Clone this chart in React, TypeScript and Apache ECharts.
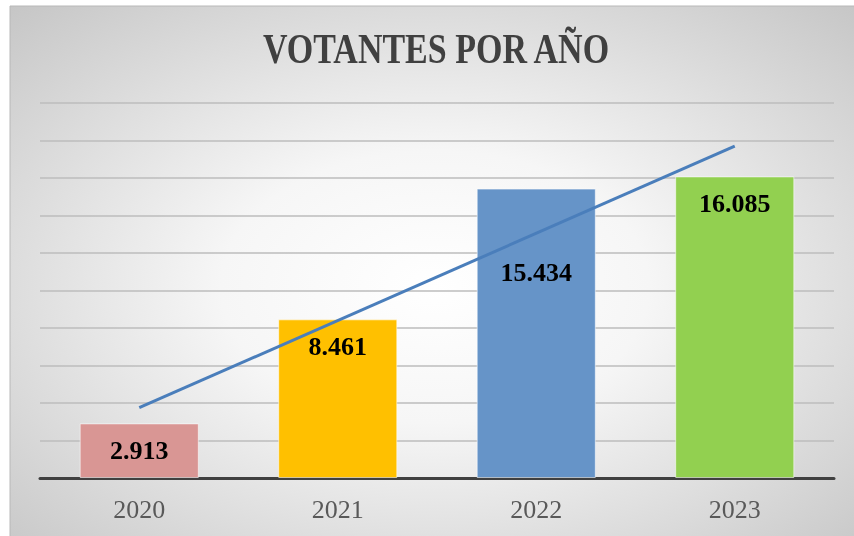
import React, { useEffect, useRef } from "react";
import * as echarts from "echarts";

const titleText = "VOTANTES POR AÑO";
const years = ["2020", "2021", "2022", "2023"];
const votantes = [2913, 8461, 15434, 16085];
const barColors = ["#d99694", "#ffc000", "#6694c8", "#92d050"];
const labelDistances = [14, 14, 71, 14];
// trendline endpoints (first and last category)
const trend = [3750, null, null, 17700];

const fmt = (v: number) => v.toLocaleString("de-DE");

export default function App() {
  const ref = useRef<HTMLDivElement>(null);
  useEffect(() => {
    const chart = echarts.init(ref.current!, null, { renderer: "svg" });
    chart.setOption({
      animation: false,
      graphic: [
        {
          type: "rect",
          z: -10,
          silent: true,
          shape: { x: 10, y: 6, width: 850, height: 540 },
          style: {
            fill: {
              type: "radial",
              x: 0.5,
              y: 0.52,
              r: 0.72,
              colorStops: [
                { offset: 0, color: "#ffffff" },
                { offset: 0.35, color: "#f6f6f6" },
                { offset: 1, color: "#c6c6c6" },
              ],
            },
            stroke: "#b8b8b8",
            lineWidth: 1,
          },
        },
        {
          type: "text",
          x: 436,
          y: 49,
          scaleY: 1.24,
          style: {
            text: titleText,
            fontFamily: "Liberation Serif",
            fontWeight: "bold",
            fontSize: 34,
            fill: "#404040",
            align: "center",
            verticalAlign: "middle",
          },
        },
      ],
      grid: { left: 40, right: 20, top: 103, bottom: 58 },
      xAxis: {
        type: "category",
        data: years,
        axisTick: { show: false },
        axisLine: { lineStyle: { color: "#404040", width: 3 } },
        axisLabel: {
          margin: 18,
          fontFamily: "Liberation Serif",
          fontSize: 26,
          lineHeight: 26,
          color: "#595959",
        },
      },
      yAxis: {
        type: "value",
        min: 0,
        max: 20000,
        interval: 2000,
        axisLabel: { show: false },
        axisLine: { show: false },
        axisTick: { show: false },
        splitLine: { lineStyle: { color: "#bdbdbd", width: 1.5 } },
      },
      series: [
        {
          type: "bar",
          barCategoryGap: "40%",
          data: votantes.map((v, i) => ({
            value: v,
            itemStyle: { color: barColors[i] },
            label: { distance: labelDistances[i] },
          })),
          itemStyle: { borderColor: "rgba(255,255,255,0.55)", borderWidth: 1 },
          label: {
            show: true,
            position: "insideTop",
            formatter: (p: any) => fmt(p.value),
            fontFamily: "Liberation Serif",
            fontWeight: "bold",
            fontSize: 26,
            lineHeight: 26,
            color: "#000000",
          },
          z: 2,
        },
        {
          type: "line",
          data: trend,
          connectNulls: true,
          symbol: "none",
          lineStyle: { color: "#4a7ebb", width: 3 },
          z: 3,
        },
      ],
    });
    return () => chart.dispose();
  }, []);
  return (
    <div
      ref={ref}
      style={{ position: "fixed", left: 0, top: 0, width: 854, height: 536 }}
    />
  );
}
